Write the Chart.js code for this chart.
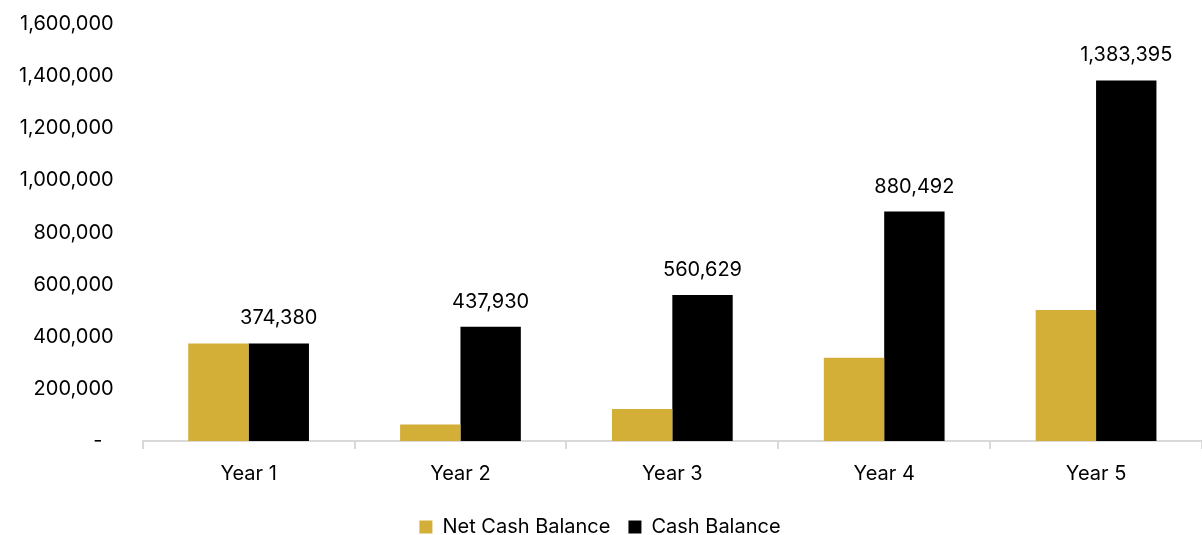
<!DOCTYPE html>
<html>
<head>
<meta charset="utf-8">
<script src="https://cdn.jsdelivr.net/npm/chart.js@4/dist/chart.umd.min.js"></script>
<style>
  html, body { margin: 0; padding: 0; background: #ffffff; overflow: hidden; }
  #frame { width: 1202px; height: 535px; overflow: hidden; position: relative; }
  #wrap { width: 1202px; height: 544px; position: absolute; left: 0; top: -9px; }
</style>
</head>
<body>
<div id="frame"><div id="wrap"><canvas id="chart"></canvas></div></div>
<script>
const categories = ['Year 1', 'Year 2', 'Year 3', 'Year 4', 'Year 5'];
const netCashBalance = [374380, 63550, 122699, 319863, 502903];
const cashBalance = [374380, 437930, 560629, 880492, 1383395];

const GOLD = '#D4AF37';
const BLACK = '#000000';
const FONT = "Inter, 'Noto Sans', sans-serif";
const FONT_SIZE = 20;

const fmt = v => Math.round(v).toLocaleString('en-US');

// Value labels above the Cash Balance columns
const valueLabels = {
  id: 'valueLabels',
  afterDatasetsDraw(chart) {
    const ctx = chart.ctx;
    const meta = chart.getDatasetMeta(1);
    ctx.save();
    ctx.font = FONT_SIZE + 'px ' + FONT;
    ctx.fillStyle = '#000000';
    ctx.textAlign = 'center';
    ctx.textBaseline = 'middle';
    meta.data.forEach((bar, i) => {
      ctx.fillText(fmt(cashBalance[i]), bar.x, bar.y - 25);
    });
    ctx.restore();
  }
};

new Chart(document.getElementById('chart'), {
  type: 'bar',
  data: {
    labels: categories,
    datasets: [
      { label: 'Net Cash Balance', data: netCashBalance, backgroundColor: GOLD,
        barPercentage: 1.0, categoryPercentage: 0.57 },
      { label: 'Cash Balance', data: cashBalance, backgroundColor: BLACK,
        barPercentage: 1.0, categoryPercentage: 0.57 }
    ]
  },
  options: {
    responsive: true,
    maintainAspectRatio: false,
    animation: false,
    layout: { padding: { top: 0, right: 0, left: -2, bottom: -12 } },
    plugins: {
      tooltip: { enabled: false },
      legend: {
        position: 'bottom',
        labels: {
          font: { family: FONT, size: FONT_SIZE },
          color: '#000000',
          boxWidth: 13,
          boxHeight: 13,
          padding: 18
        }
      }
    },
    scales: {
      x: {
        grid: {
          display: true,
          offset: true,
          drawOnChartArea: false,
          drawTicks: true,
          tickLength: 8,
          color: '#d9d9d9',
          lineWidth: 2
        },
        border: { display: true, color: '#d9d9d9', width: 2 },
        ticks: {
          font: { family: FONT, size: FONT_SIZE, lineHeight: 0.1 },
          color: '#000000',
          padding: 24
        }
      },
      y: {
        min: 0,
        max: 1600000,
        grid: { display: false },
        border: { display: false },
        ticks: {
          stepSize: 200000,
          font: { family: FONT, size: FONT_SIZE },
          color: '#000000',
          padding: 21,
          callback: v => v === 0 ? '-  ' : fmt(v)
        }
      }
    }
  },
  plugins: [valueLabels]
});
</script>
</body>
</html>
